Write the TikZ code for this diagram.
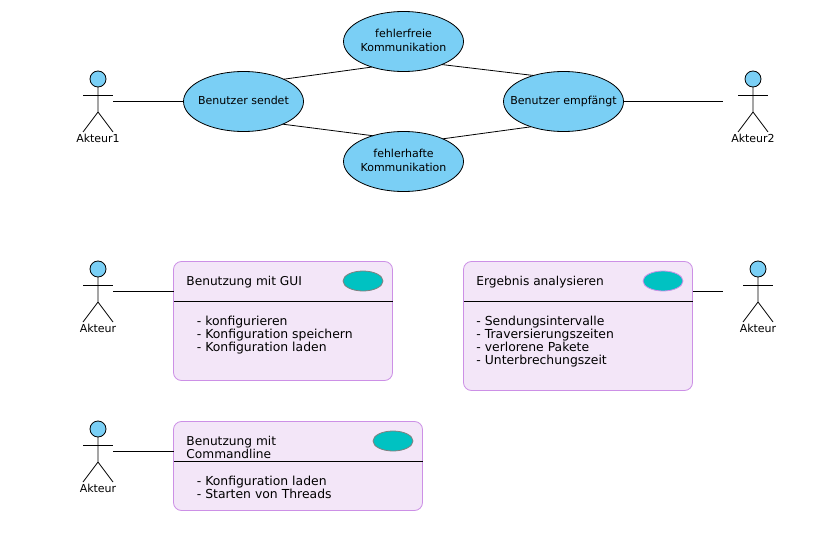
\documentclass[tikz,border=0pt]{standalone}
\usepackage{fontspec}
\setmainfont{DejaVu Sans}
\usetikzlibrary{positioning}
\usetikzlibrary{shapes.geometric}
\definecolor{usecaseblue}{HTML}{7ACFF5}
\definecolor{boxfill}{HTML}{F3E6F8}
\definecolor{boxline}{HTML}{CC90E6}
\definecolor{iconfill}{HTML}{00C2C2}
\tikzset{
  usecase/.style={draw, ellipse, fill=usecaseblue, minimum width=120pt, minimum height=60pt,
    inner sep=0pt, outer sep=0pt, font=\fontsize{11}{14}\selectfont},
  usebox/.style={draw=boxline, fill=boxfill, rounded corners=8pt, inner sep=0pt, outer sep=0pt},
  icon/.style={draw=gray, ellipse, fill=iconfill, minimum width=40pt, minimum height=20pt, inner sep=0pt},
  boxtitle/.style={anchor=north west, inner sep=0pt, align=left, font=\fontsize{12.2}{13}\selectfont},
  boxtext/.style={anchor=north west, inner sep=0pt, align=left, font=\fontsize{12.4}{13}\selectfont},
  actorlabel/.style={inner sep=0pt, font=\fontsize{11}{13}\selectfont}
}
% text of a use case, takes no room in its ellipse
\newcommand{\casetext}[1]{\raisebox{-1pt}{\makebox[0pt]{\begin{tabular}{@{}c@{}}#1\end{tabular}}}}
% name, x, y of the head, label
\newcommand{\actorfig}[4]{
  \node [draw, circle, fill=usecaseblue, minimum size=16pt, inner sep=0pt, outer sep=0pt] (#1) at (#2, #3) {};
  \draw (#1.south) -- ++(0, 25) -- ++(-15, 20);
  \draw (#2, #3) ++(0, 33) -- ++(15, 20);
  \draw (#2, #3) ++(-15, 16) -- ++(30, 0);
  \node [actorlabel] (#1label) at (#2, #3 + 59.5) {#4};
}
\begin{document}
\begin{tikzpicture}[x=1pt, y=-1pt, line width=0.8pt]
  \useasboundingbox (0, 0) rectangle (833, 535);

  % upper part
  \actorfig{akteureins}{98}{79}{Akteur1}
  \actorfig{akteurzwei}{753}{79}{Akteur2}
  \coordinate (handeins) at (113, 101);
  \coordinate (handzwei) at (723, 101);

  \node [usecase] (sendet) at (243.5, 101.5) {\casetext{Benutzer sendet}};
  \node [usecase] (frei) at (403.5, 41.5) {\casetext{fehlerfreie\\Kommunikation}};
  \node [usecase] (haft) at (403.5, 161.5) {\casetext{fehlerhafte\\Kommunikation}};
  \node [usecase] (empf) at (563.5, 101.5) {\casetext{Benutzer empfängt}};

  \draw (handeins) -- (handeins -| sendet.west);
  \draw (handzwei -| empf.east) -- (handzwei);
  \draw (sendet.29) -- (frei.219);
  \draw (frei.329) -- (empf.139);
  \draw (sendet.330) -- (haft.140);
  \draw (haft.30) -- (empf.218);

  % lower part
  \actorfig{akteurgui}{98}{269}{Akteur}
  \actorfig{akteurerg}{758}{269}{Akteur}
  \actorfig{akteurcmd}{98}{429}{Akteur}
  \coordinate (handgui) at (113, 291);
  \coordinate (handerg) at (722.5, 291);
  \coordinate (handcmd) at (113, 451);

  \node [usebox, minimum width=219pt, minimum height=119pt] (guibox) at (283, 321) {};
  \node [usebox, minimum width=229pt, minimum height=129pt] (ergbox) at (578, 326) {};
  \node [usebox, minimum width=249pt, minimum height=89pt] (cmdbox) at (298, 466) {};

  \coordinate (guisep) at (0, 301);
  \coordinate (cmdsep) at (0, 461);
  \draw (guibox.west |- guisep) -- (guibox.east |- guisep);
  \draw (ergbox.west |- guisep) -- (ergbox.east |- guisep);
  \draw (cmdbox.west |- cmdsep) -- (cmdbox.east |- cmdsep);

  \draw (handgui) -- (guibox.west |- handgui);
  \draw (ergbox.east |- handerg) -- (handerg);
  \draw (handcmd) -- (cmdbox.west |- handcmd);

  \node [icon] (guiicon) at (363, 281) {};
  \node [icon, draw=boxline] (ergicon) at (663, 281) {};
  \node [icon] (cmdicon) at (393, 441) {};

  \node [boxtitle] (guititle) at (186, 275.5) {Benutzung mit GUI};
  \node [boxtitle] (ergtitle) at (476, 275.5) {Ergebnis analysieren};
  \node [boxtitle] (cmdtitle) at (186, 435.5) {Benutzung mit\\Commandline};

  \node [boxtext] (guitext) at (196.5, 316) {- konfigurieren\\- Konfiguration speichern\\- Konfiguration laden};
  \node [boxtext] (ergtext) at (476, 316) {- Sendungsintervalle\\- Traversierungszeiten\\- verlorene Pakete\\- Unterbrechungszeit};
  \node [boxtext] (cmdtext) at (196.5, 476) {- Konfiguration laden\\- Starten von Threads};
\end{tikzpicture}
\end{document}
